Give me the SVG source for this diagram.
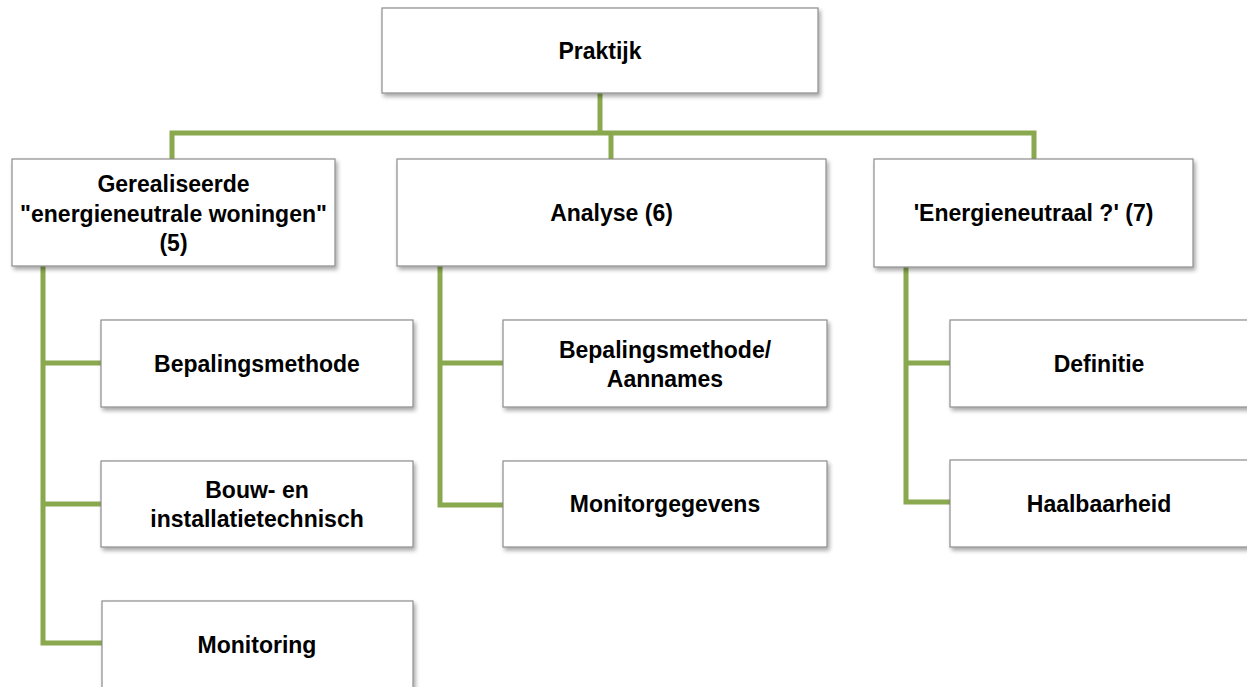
<svg xmlns="http://www.w3.org/2000/svg" width="1247" height="687" viewBox="0 0 1247 687">
<defs>
<filter id="sh" x="-5%" y="-10%" width="115%" height="130%">
<feGaussianBlur in="SourceAlpha" stdDeviation="2"/>
<feOffset dx="2" dy="3" result="b"/>
<feComponentTransfer><feFuncA type="linear" slope="0.35"/></feComponentTransfer>
<feMerge><feMergeNode/><feMergeNode in="SourceGraphic"/></feMerge>
</filter>
</defs>
<style>
.box{fill:#fff;stroke:#8c8c8c;stroke-width:1.2;filter:url(#sh)}
.t{font-family:"Liberation Sans",Arial,sans-serif;font-weight:bold;font-size:23px;fill:#000;text-anchor:middle}
.c{fill:none;stroke:#8aa84d;stroke-width:5;stroke-linejoin:miter}
</style>
<rect width="1247" height="687" fill="#fff"/>
<g id="connectors">
<path class="c" d="M600 93 V133"/>
<path class="c" d="M172 161 V133 H1034 V161"/>
<path class="c" d="M611 133 V161"/>
<path class="c" d="M43 266 V643 H104 M43 363 H104 M43 504 H104"/>
<path class="c" d="M440 266 V505 H505 M440 363 H505"/>
<path class="c" d="M906 267 V502 H952 M906 363 H952"/>
</g>
<g id="praktijk"><rect class="box" x="382" y="8" width="436" height="85"/><text class="t" x="600" y="59">Praktijk</text></g>
<g id="gerealiseerde"><rect class="box" x="12" y="159" width="323" height="107"/><text class="t" x="173.5" y="192">Gerealiseerde</text><text class="t" x="173.5" y="222">"energieneutrale woningen"</text><text class="t" x="173.5" y="251">(5)</text></g>
<g id="analyse"><rect class="box" x="397" y="159" width="429" height="107"/><text class="t" x="611.5" y="221">Analyse (6)</text></g>
<g id="energieneutraal"><rect class="box" x="874" y="159" width="319" height="108"/><text class="t" x="1033.5" y="221">'Energieneutraal ?' (7)</text></g>
<g id="bepalingsmethode"><rect class="box" x="101" y="320" width="312" height="87"/><text class="t" x="257" y="372">Bepalingsmethode</text></g>
<g id="bouw"><rect class="box" x="101" y="461" width="312" height="86"/><text class="t" x="257" y="498">Bouw- en</text><text class="t" x="257" y="527">installatietechnisch</text></g>
<g id="monitoring"><rect class="box" x="102" y="601" width="311" height="100"/><text class="t" x="257" y="653">Monitoring</text></g>
<g id="bepalingsmethode-aannames"><rect class="box" x="503" y="320" width="324" height="87"/><text class="t" x="665" y="358">Bepalingsmethode/</text><text class="t" x="665" y="387">Aannames</text></g>
<g id="monitorgegevens"><rect class="box" x="503" y="461" width="324" height="86"/><text class="t" x="665" y="512">Monitorgegevens</text></g>
<g id="definitie"><rect class="box" x="950" y="320" width="300" height="87"/><text class="t" x="1099" y="372">Definitie</text></g>
<g id="haalbaarheid"><rect class="box" x="950" y="460" width="300" height="87"/><text class="t" x="1099" y="512">Haalbaarheid</text></g>
</svg>
